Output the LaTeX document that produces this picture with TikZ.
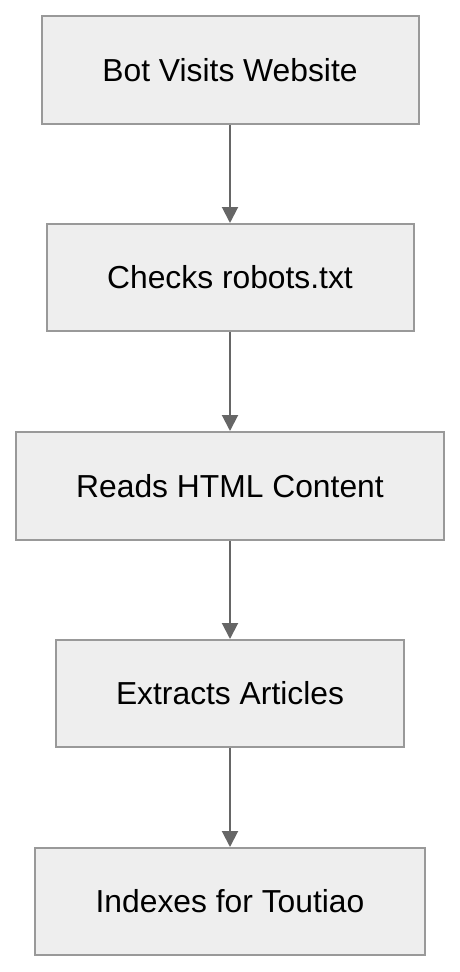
\documentclass[tikz,border=0pt]{standalone}
\usepackage{fontspec}
\setmainfont{Liberation Sans}
\usetikzlibrary{arrows.meta}
\definecolor{boxfill}{HTML}{EEEEEE}
\definecolor{boxline}{HTML}{999999}
\definecolor{arrowc}{HTML}{666666}
\tikzset{
  stepbox/.style={draw=boxline, line width=2pt, fill=boxfill, inner sep=0pt, font=\fontsize{31.8}{36}\selectfont},
  flow/.style={draw=arrowc, line width=2pt, -{Triangle[length=16pt,width=16pt]}}
}
\begin{document}
\begin{tikzpicture}[x=1pt,y=-1pt]
\useasboundingbox (0,0) rectangle (460,972);
\node[stepbox, minimum width=377pt, minimum height=108pt] (a) at (230,70) {Bot Visits Website};
\node[stepbox, minimum width=367pt, minimum height=107pt] (b) at (230,277.5) {Checks robots.txt};
\node[stepbox, minimum width=428pt, minimum height=108pt] (c) at (230,486) {Reads HTML Content};
\node[stepbox, minimum width=348pt, minimum height=107pt] (d) at (230,693.5) {Extracts Articles};
\node[stepbox, minimum width=390pt, minimum height=107pt] (e) at (230,901.5) {Indexes for Toutiao};
\draw[flow] (a.south) -- (b.north);
\draw[flow] (b.south) -- (c.north);
\draw[flow] (c.south) -- (d.north);
\draw[flow] (d.south) -- (e.north);
\end{tikzpicture}
\end{document}
